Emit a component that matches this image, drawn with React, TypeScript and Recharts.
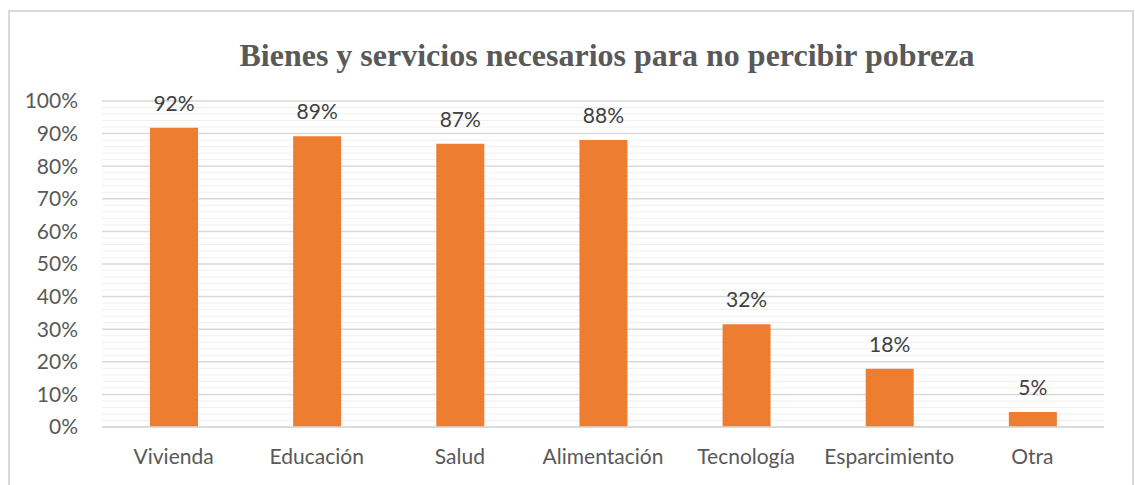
import React from "react";
import { BarChart, Bar, XAxis, YAxis, CartesianGrid, LabelList } from "recharts";

const categories = ["Vivienda", "Educación", "Salud", "Alimentación", "Tecnología", "Esparcimiento", "Otra"];
const values = [91.8, 89.2, 86.9, 88.0, 31.5, 17.9, 4.6];
const majorTicks = [0, 10, 20, 30, 40, 50, 60, 70, 80, 90, 100];
const minorTicks = [2, 4, 6, 8, 12, 14, 16, 18, 22, 24, 26, 28, 32, 34, 36, 38, 42, 44, 46, 48, 52, 54, 56, 58, 62, 64, 66, 68, 72, 74, 76, 78, 82, 84, 86, 88, 92, 94, 96, 98];
const title = "Bienes y servicios necesarios para no percibir pobreza";

const data = categories.map((c, i) => ({ name: c, value: values[i] }));
const FONT = "Lato, 'Open Sans', sans-serif";

export default function App() {
  return (
    <div style={{ position: "fixed", left: 0, top: 0, width: 1135, height: 485, overflow: "hidden", background: "#fff" }}>
      <div
        style={{
          position: "absolute",
          left: 8,
          top: 10,
          width: 1126,
          height: 490,
          border: "2px solid #d9d9d9",
          boxSizing: "border-box",
        }}
      />
      <svg style={{ position: "absolute", left: 0, top: 0 }} width={1135} height={90}>
        <text
          x={607}
          y={66}
          textAnchor="middle"
          fill="#595959"
          style={{ fontFamily: "'Liberation Serif', 'Times New Roman', serif", fontWeight: "bold", fontSize: 32 }}
        >
          {title}
        </text>
      </svg>
      <div style={{ position: "absolute", left: 10, top: 12 }}>
        <BarChart width={1122} height={480} data={data} margin={{ top: 89, right: 28, left: 0, bottom: 35 }}>
          <CartesianGrid vertical={false} horizontalValues={minorTicks} stroke="#efefef" strokeWidth={1} />
          <CartesianGrid vertical={false} stroke="#d9d9d9" strokeWidth={1.5} />
          <XAxis
            dataKey="name"
            height={30}
            tickSize={0}
            tickLine={false}
            tickMargin={22}
            axisLine={{ stroke: "#d9d9d9", strokeWidth: 1.5 }}
            tick={{ fill: "#595959", fontSize: 21, fontFamily: FONT }}
            interval={0}
          />
          <YAxis
            width={92}
            domain={[0, 100]}
            ticks={majorTicks}
            tickFormatter={(v: number) => `${v}%`}
            tickSize={0}
            tickLine={false}
            tickMargin={24}
            axisLine={false}
            tick={{ fill: "#595959", fontSize: 21, fontFamily: FONT }}
            interval={0}
          />
          <Bar dataKey="value" fill="#ED7D31" barSize={48} isAnimationActive={false}>
            <LabelList
              dataKey="value"
              position="top"
              offset={17}
              formatter={(v: number) => `${Math.round(v)}%`}
              style={{ fill: "#404040", fontSize: 21, fontFamily: FONT }}
            />
          </Bar>
        </BarChart>
      </div>
    </div>
  );
}
